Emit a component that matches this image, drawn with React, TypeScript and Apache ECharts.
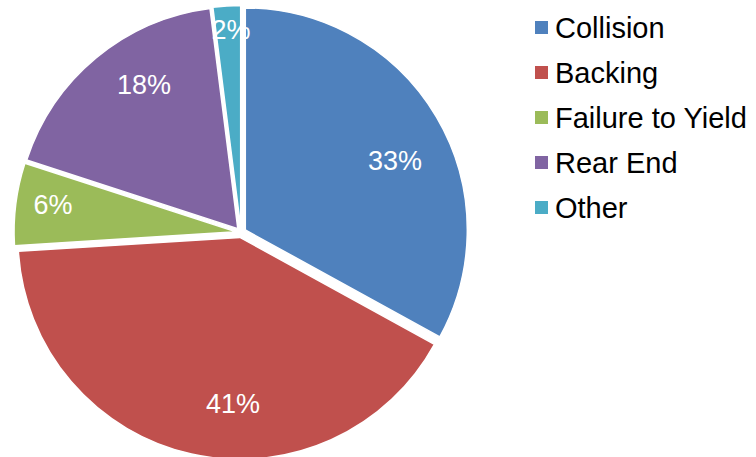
import React, { useEffect, useRef } from "react";
import * as echarts from "echarts";

const categories = ["Collision", "Backing", "Failure to Yield", "Rear End", "Other"];
const values = [33, 41, 6, 18, 2];
const colors = ["#4F81BD", "#C0504D", "#9BBB59", "#8064A2", "#4BACC6"];

// label placement style (angle shift in degrees, radius ratio) mimicking best-fit labels
const labelPlacement: [number, number][] = [
  [5.9, 0.742],
  [-10.2, 0.749],
  [1.2, 0.833],
  [6.5, 0.774],
  [0.8, 0.89],
];

const CX = 241;
const CY = 232.5;
const R = 222;
const OFFSET = 5;
const FONT = "'Liberation Sans', Arial, sans-serif";

export default function App() {
  const ref = useRef<HTMLDivElement>(null);
  useEffect(() => {
    if (!ref.current) return;
    const chart = echarts.init(ref.current, undefined, { renderer: "svg" });
    const total = values.reduce((a, b) => a + b, 0);

    let cum = 0;
    const labels = values.map((v, i) => {
      const mid = ((cum + v / 2) / total) * 360;
      cum += v;
      const [shift, ratio] = labelPlacement[i];
      const b = (mid * Math.PI) / 180;
      const a = ((mid + shift) * Math.PI) / 180;
      return {
        type: "text",
        x: CX + OFFSET * Math.sin(b) + R * ratio * Math.sin(a),
        y: CY - OFFSET * Math.cos(b) - R * ratio * Math.cos(a),
        z: 100,
        silent: true,
        style: {
          text: Math.round((v / total) * 100) + "%",
          fill: "#ffffff",
          font: `27px ${FONT}`,
          align: "center",
          verticalAlign: "middle",
        },
      };
    });

    const option = {
      animation: false,
      backgroundColor: "#ffffff",
      legend: {
        orient: "vertical",
        left: 533,
        top: 13,
        padding: 0,
        itemWidth: 15,
        itemHeight: 15,
        itemGap: 16,
        icon: "rect",
        data: categories,
        textStyle: {
          fontFamily: FONT,
          fontSize: 29,
          lineHeight: 29,
          color: "#000000",
          padding: [0, 0, 0, 1],
        },
        selectedMode: false,
      },
      graphic: labels,
      series: [
        {
          type: "pie",
          center: [CX, CY],
          radius: R,
          startAngle: 90,
          clockwise: true,
          selectedMode: "multiple",
          selectedOffset: OFFSET,
          avoidLabelOverlap: false,
          emphasis: { disabled: true },
          itemStyle: { borderColor: "#ffffff", borderWidth: 1.5 },
          label: { show: false },
          labelLine: { show: false },
          data: categories.map((name, i) => ({
            name,
            value: values[i],
            selected: true,
            itemStyle: { color: colors[i] },
          })),
        },
      ],
    };
    chart.setOption(option as any);
    return () => chart.dispose();
  }, []);
  return (
    <div
      ref={ref}
      style={{ position: "fixed", left: 0, top: 0, width: 756, height: 457 }}
    />
  );
}
